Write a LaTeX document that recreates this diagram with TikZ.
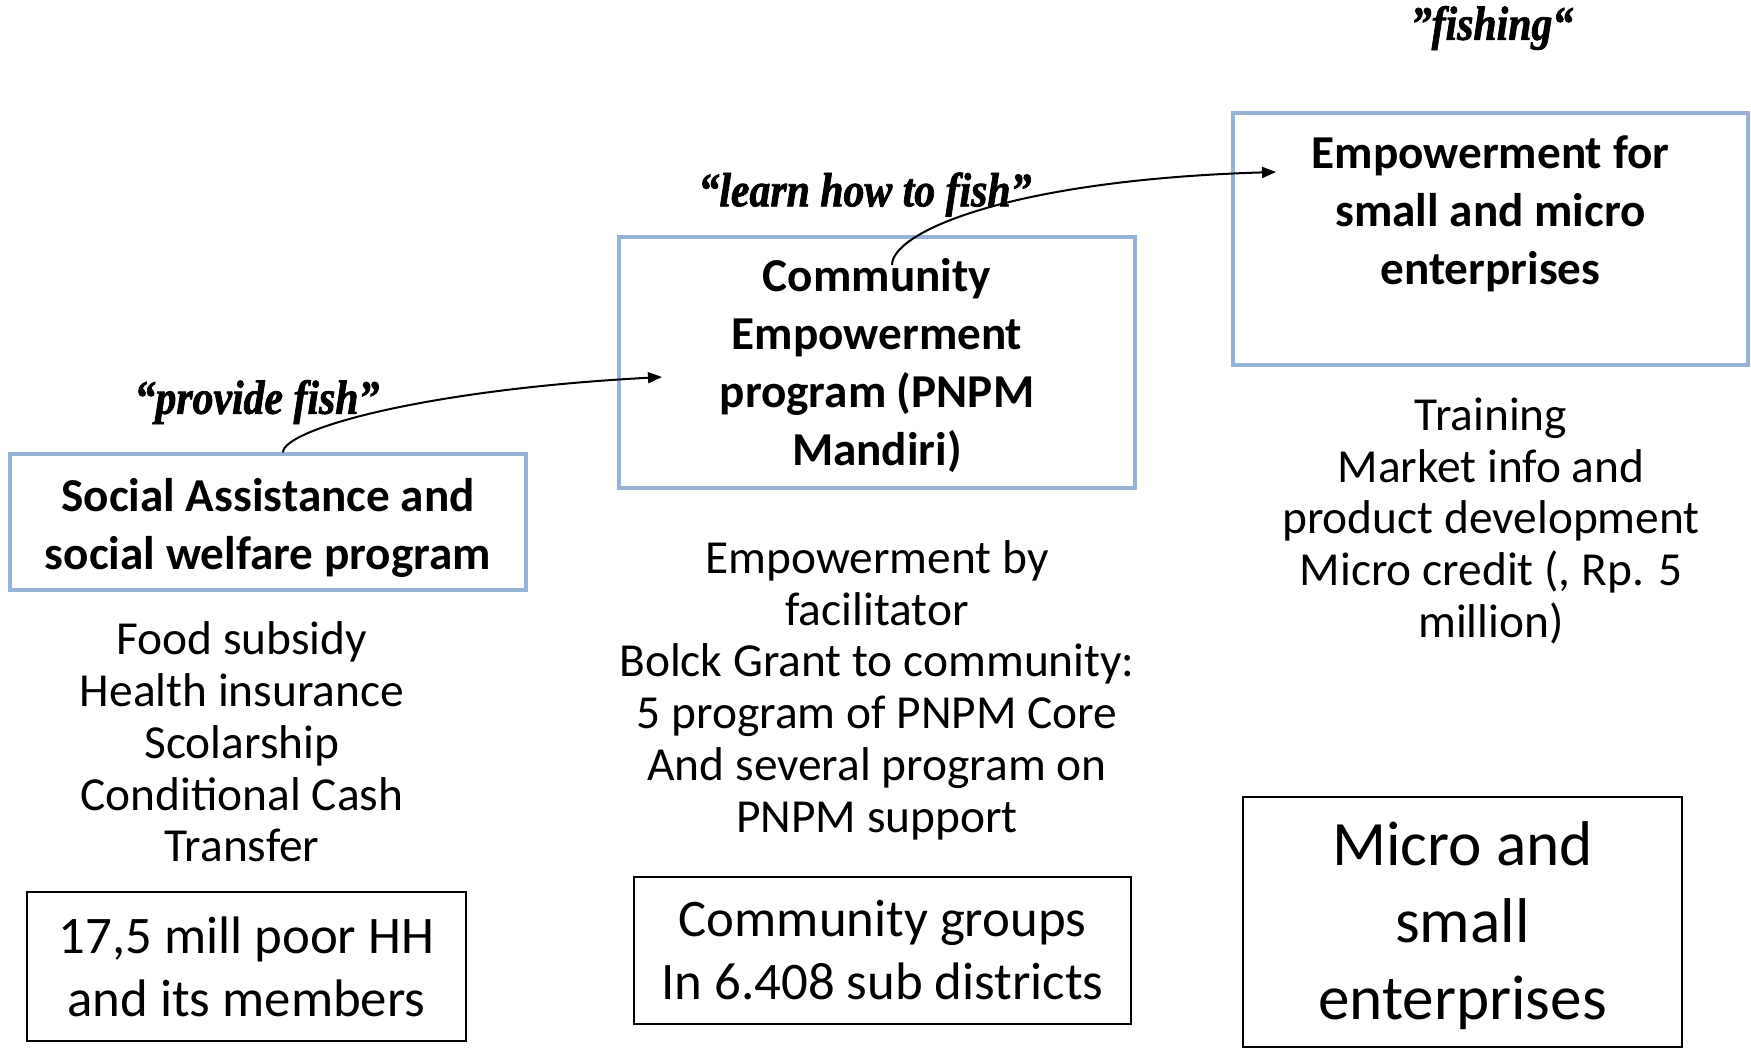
\documentclass[tikz,border=0pt]{standalone}
\usepackage{fontspec}
\setmainfont{Carlito}
\newfontfamily\qfont[FakeStretch=0.87,FakeBold=1.5]{Liberation Serif}
\usetikzlibrary{arrows.meta}
\definecolor{boxblue}{RGB}{149,179,215}
\newcommand\tpad[1]{\rule{0pt}{#1}}
\newcommand\bpad[1]{\rule[-#1]{0pt}{0pt}}
\begin{document}
\begin{tikzpicture}[x=0.5pt,y=-0.5pt,
  bluebox/.style={draw=boxblue, line width=1.6pt, inner sep=0pt, align=center,
    font=\fontsize{23.6}{29}\selectfont\bfseries},
  blackbox/.style={draw=black, line width=1pt, inner sep=0pt, align=center},
  listtext/.style={align=center, inner sep=0pt, font=\fontsize{23.7}{25.9}\selectfont},
  qlabel/.style={inner sep=0pt, font=\qfont\fontsize{24}{28}\selectfont\bfseries\itshape},
  conn/.style={line width=1pt, -{Triangle[length=7pt,width=5.5pt]}}]
\path[use as bounding box] (0,0) rectangle (1751,1048);

% top boxes
\node[bluebox, minimum width=258pt, minimum height=68pt] (b1) at (268,522)
  {\tpad{22.8pt}Social Assistance and\\social welfare program\bpad{4.5pt}};
\node[bluebox, minimum width=258pt, minimum height=125.5pt] (b2) at (877,362.5)
  {\tpad{19.8pt}Community\\Empowerment\\program (PNPM\\Mandiri)\bpad{4pt}};
\node[bluebox, minimum width=257.5pt, minimum height=126pt] (b3) at (1490.5,239)
  {Empowerment for\\small and micro\\enterprises\\\mbox{}};

% quote labels
\node[qlabel] (q1) at (257,402) {“provide fish”};
\node[qlabel] (q2) at (865,194.5) {“learn how to fish”};
\node[qlabel] (q3) at (1492,28) {”fishing“};

% lists
\node[listtext] (l1) at (242,742)
  {Food subsidy\\Health insurance\\Scolarship\\Conditional Cash\\Transfer};
\node[listtext] (l2) at (877,688)
  {\tpad{19.3pt}Empowerment by\\facilitator\\Bolck Grant to community:\\5 program of PNPM Core\\And several program on\\PNPM support\bpad{4.5pt}};
\node[listtext] (l3) at (1491,519)
  {\tpad{18.9pt}Training\\Market info and\\product development\\Micro credit (, Rp. 5\\million)\bpad{4pt}};

% bottom boxes
\node[blackbox, minimum width=219.5pt, minimum height=74.5pt,
  font=\fontsize{26.4}{31.5}\selectfont] (b4) at (246.5,966.5)
  {17,5 mill poor HH\\and its members};
\node[blackbox, minimum width=248.5pt, minimum height=73.5pt,
  font=\fontsize{26.4}{31.5}\selectfont] (b5) at (882.5,950.5)
  {Community groups\\In 6.408 sub districts};
\node[blackbox, minimum width=219.5pt, minimum height=125pt,
  font=\fontsize{31.6}{38.5}\selectfont] (b6) at (1462.5,922)
  {\tpad{26.9pt}Micro and\\small\\enterprises\bpad{6pt}};

% connectors
\coordinate (a1e) at (662,377);
\coordinate (a2s) at (892,265);
\coordinate (a2e) at (1276,172);
\draw[conn] (b1.north -| 283,0) .. controls (283,430) and (420,390) .. (a1e);
\draw[conn] (a2s) .. controls (892,232) and (1010,180) .. (a2e);
\end{tikzpicture}
\end{document}
